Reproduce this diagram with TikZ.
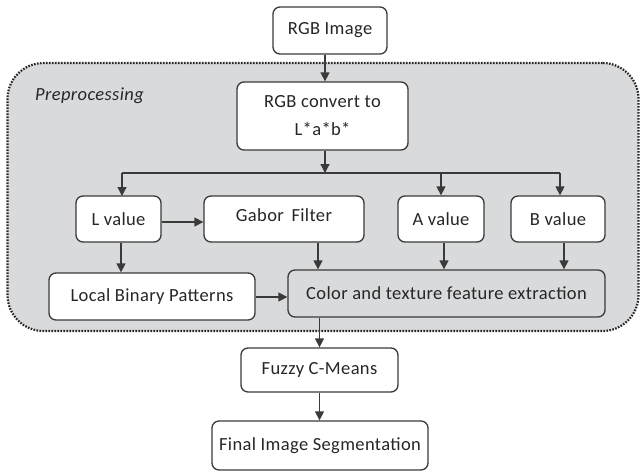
\documentclass[tikz,border=0pt]{standalone}
\usepackage{fontspec}
\setmainfont{Carlito}[LetterSpace=2]
\usetikzlibrary{arrows.meta,calc}
\definecolor{boxline}{HTML}{3A3A3A}
\definecolor{prepfill}{HTML}{D9DADC}
\definecolor{txt}{HTML}{262626}
\begin{document}
\begin{tikzpicture}[x=1pt,y=-1pt,
  box/.style={draw=boxline, line width=1.3pt, rounded corners=7pt, fill=white,
    inner sep=0pt, align=center, text=txt, font=\fontsize{18.5}{28}\selectfont},
  arr/.style={draw=boxline, line width=1.3pt, -{Triangle[length=9pt,width=9pt]}},
  ln/.style={draw=boxline, line width=1.3pt}]
\useasboundingbox (0,0) rectangle (643,475);
% container
\node (prep) [draw=black!85, fill=prepfill, line width=2.2pt, dash pattern=on 1.6pt off 1.4pt,
  rounded corners=36pt, minimum width=631pt, minimum height=268pt, inner sep=0pt] at (323,197) {};
\node (preplabel) [anchor=west, text=txt, font=\fontsize{18.5}{22}\selectfont\itshape, inner sep=0pt] at (35,96) {Preprocessing};
% nodes
\node (rgb)   [box, minimum width=114pt, minimum height=47pt] at (330,30.5) {RGB Image};
\node (conv)  [box, minimum width=171pt, minimum height=68pt] at (322.5,116) {RGB convert to\\L*a*b*};
\node (lval)  [box, minimum width=85pt,  minimum height=46pt] at (118.5,219) {L value};
\node (gabor) [box, minimum width=160pt, minimum height=46pt] at (284,219) {\raisebox{4pt}[\height][\depth]{Gabor\, Filter}};
\node (aval)  [box, minimum width=86pt,  minimum height=46pt] at (441,219) {A value};
\node (bval)  [box, minimum width=94pt,  minimum height=46pt] at (558,219) {B value};
\node (lbp)   [box, minimum width=206pt, minimum height=47pt] at (152,296.5) {Local Binary Patterns};
\node (color) [box, fill=prepfill, minimum width=317pt, minimum height=47pt] at (446.5,293.5) {Color and texture feature extraction};
\node (fuzzy) [box, minimum width=157pt, minimum height=44pt] at (319.5,370) {Fuzzy C-Means};
\node (final) [box, minimum width=216pt, minimum height=49pt] at (320,445.5) {Final Image Segmentation};
% connectors
\coordinate (split) at (325,173);
\draw[arr] (split |- rgb.south) -- (split |- conv.north);
\draw[arr] (split |- conv.south) -- (split);
\draw[ln] (122,173) -- (560,173);
\draw[arr] (122,173) -- (122,196);
\draw[arr] (aval.north |- split) -- (aval.north);
\draw[arr] ($(bval.north |- split)+(2,0)$) -- ($(bval.north)+(2,0)$);
\draw[arr] (lval.east |- 0,222) -- (gabor.west |- 0,222);
\draw[arr] ($(lval.south)+(2.5,0)$) -- ($(lval.south |- lbp.north)+(2.5,0)$);
\draw[arr] ($(gabor.south)+(34,0)$) -- ($(gabor.south |- color.north)+(34,0)$);
\draw[arr] ($(aval.south)+(3,0)$) -- ($(aval.south |- color.north)+(3,0)$);
\draw[arr] ($(bval.south)+(6,0)$) -- ($(bval.south |- color.north)+(6,0)$);
\draw[arr] (lbp.east |- 0,297) -- (color.west |- 0,297);
\draw[arr] (fuzzy.north |- color.south) -- (fuzzy.north);
\draw[arr] (fuzzy.south) -- (fuzzy.south |- final.north);
\end{tikzpicture}
\end{document}
